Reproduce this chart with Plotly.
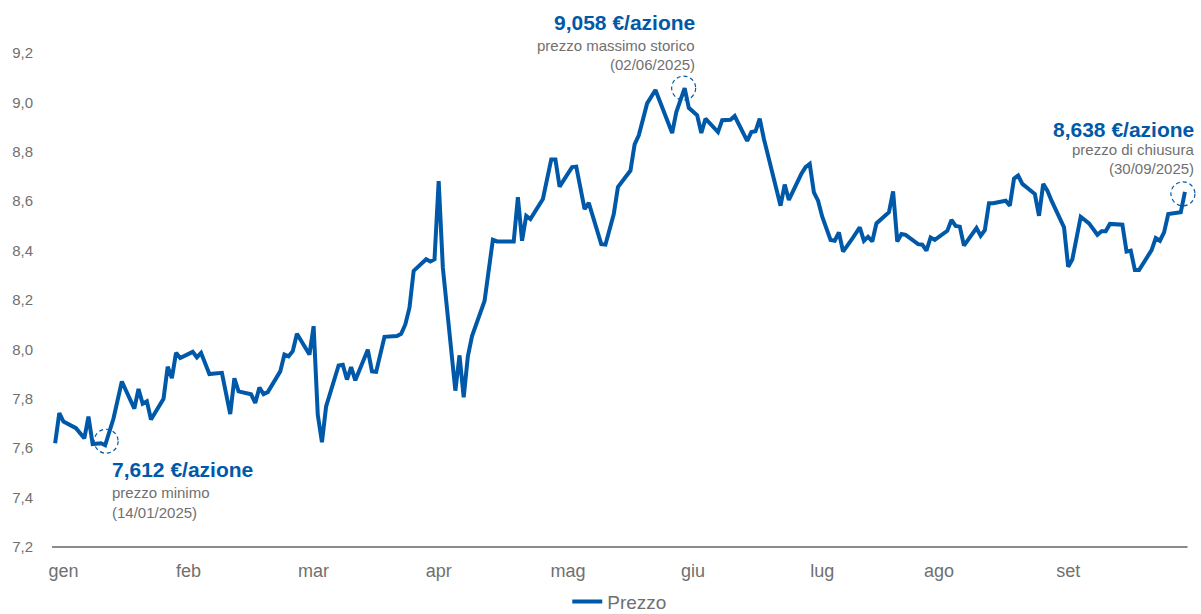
import plotly.graph_objects as go

# ---- data ----
dates = [
    "2025-01-02", "2025-01-03", "2025-01-04", "2025-01-07", "2025-01-09", "2025-01-10",
    "2025-01-11", "2025-01-13", "2025-01-14", "2025-01-16", "2025-01-18", "2025-01-21",
    "2025-01-22", "2025-01-23", "2025-01-24", "2025-01-25", "2025-01-28", "2025-01-29",
    "2025-01-30", "2025-01-31", "2025-02-01", "2025-02-04", "2025-02-05", "2025-02-06",
    "2025-02-08", "2025-02-11", "2025-02-13", "2025-02-14", "2025-02-15", "2025-02-18",
    "2025-02-19", "2025-02-20", "2025-02-21", "2025-02-22", "2025-02-25", "2025-02-26",
    "2025-02-27", "2025-02-28", "2025-03-01", "2025-03-04", "2025-03-05", "2025-03-06",
    "2025-03-07", "2025-03-08", "2025-03-11", "2025-03-12", "2025-03-13", "2025-03-14",
    "2025-03-15", "2025-03-18", "2025-03-19", "2025-03-20", "2025-03-22", "2025-03-25",
    "2025-03-26", "2025-03-27", "2025-03-28", "2025-03-29", "2025-04-01", "2025-04-02",
    "2025-04-03", "2025-04-04", "2025-04-05", "2025-04-08", "2025-04-09", "2025-04-10",
    "2025-04-11", "2025-04-12", "2025-04-15", "2025-04-17", "2025-04-18", "2025-04-22",
    "2025-04-23", "2025-04-24", "2025-04-25", "2025-04-26", "2025-04-29", "2025-04-30",
    "2025-05-01", "2025-05-02", "2025-05-03", "2025-05-06", "2025-05-07", "2025-05-09",
    "2025-05-10", "2025-05-13", "2025-05-14", "2025-05-16", "2025-05-17", "2025-05-20",
    "2025-05-21", "2025-05-22", "2025-05-24", "2025-05-26", "2025-05-28", "2025-05-30",
    "2025-05-31", "2025-06-02", "2025-06-03", "2025-06-05", "2025-06-06", "2025-06-07",
    "2025-06-10", "2025-06-11", "2025-06-13", "2025-06-14", "2025-06-17", "2025-06-18",
    "2025-06-19", "2025-06-20", "2025-06-21", "2025-06-25", "2025-06-26", "2025-06-27",
    "2025-06-30", "2025-07-01", "2025-07-02", "2025-07-03", "2025-07-04", "2025-07-05",
    "2025-07-07", "2025-07-08", "2025-07-09", "2025-07-10", "2025-07-12", "2025-07-14",
    "2025-07-15", "2025-07-16", "2025-07-17", "2025-07-18", "2025-07-21", "2025-07-22",
    "2025-07-23", "2025-07-24", "2025-07-25", "2025-07-28", "2025-07-29", "2025-07-30",
    "2025-07-31", "2025-08-01", "2025-08-04", "2025-08-05", "2025-08-06", "2025-08-07",
    "2025-08-08", "2025-08-11", "2025-08-12", "2025-08-13", "2025-08-14", "2025-08-15",
    "2025-08-18", "2025-08-19", "2025-08-20", "2025-08-21", "2025-08-22", "2025-08-25",
    "2025-08-26", "2025-08-27", "2025-08-28", "2025-08-29", "2025-09-01", "2025-09-02",
    "2025-09-03", "2025-09-05", "2025-09-07", "2025-09-09", "2025-09-10", "2025-09-11",
    "2025-09-12", "2025-09-15", "2025-09-16", "2025-09-17", "2025-09-18", "2025-09-19",
    "2025-09-22", "2025-09-23", "2025-09-24", "2025-09-25", "2025-09-26", "2025-09-29",
    "2025-09-30",
]
prices = [
    7.620, 7.742, 7.708, 7.681, 7.640, 7.728,
    7.617, 7.620, 7.612, 7.720, 7.870, 7.760,
    7.840, 7.780, 7.790, 7.716, 7.800, 7.930,
    7.884, 7.986, 7.965, 7.990, 7.968, 7.986,
    7.900, 7.905, 7.738, 7.883, 7.830, 7.818,
    7.783, 7.846, 7.819, 7.827, 7.911, 7.979,
    7.972, 7.993, 8.063, 7.979, 8.094, 7.735,
    7.624, 7.769, 7.935, 7.938, 7.878, 7.928,
    7.875, 7.999, 7.911, 7.909, 8.051, 8.054,
    8.063, 8.101, 8.169, 8.318, 8.365, 8.356,
    8.365, 8.681, 8.331, 7.833, 7.976, 7.806,
    7.972, 8.054, 8.196, 8.444, 8.437, 8.437,
    8.616, 8.440, 8.541, 8.528, 8.609, 8.684,
    8.769, 8.769, 8.659, 8.738, 8.740, 8.568,
    8.593, 8.426, 8.424, 8.548, 8.657, 8.724,
    8.830, 8.867, 8.996, 9.050, 8.964, 8.876,
    8.961, 9.058, 8.978, 8.948, 8.876, 8.934,
    8.880, 8.928, 8.930, 8.945, 8.844, 8.880,
    8.883, 8.934, 8.853, 8.582, 8.667, 8.605,
    8.711, 8.738, 8.751, 8.636, 8.602, 8.537,
    8.443, 8.440, 8.474, 8.396, 8.443, 8.494,
    8.440, 8.456, 8.437, 8.510, 8.555, 8.640,
    8.437, 8.467, 8.464, 8.426, 8.424, 8.400,
    8.453, 8.443, 8.480, 8.524, 8.500, 8.497,
    8.420, 8.491, 8.460, 8.483, 8.592, 8.592,
    8.602, 8.582, 8.691, 8.704, 8.670, 8.629,
    8.541, 8.670, 8.643, 8.602, 8.494, 8.334,
    8.365, 8.537, 8.510, 8.464, 8.478, 8.478,
    8.508, 8.505, 8.396, 8.400, 8.321, 8.321,
    8.402, 8.451, 8.440, 8.474, 8.548, 8.555,
    8.638,
]
series_name = "Prezzo"

month_tick_dates = ["2025-01-04", "2025-02-03", "2025-03-05", "2025-04-04", "2025-05-05",
                    "2025-06-04", "2025-07-05", "2025-08-02", "2025-09-02"]
month_labels = ["gen", "feb", "mar", "apr", "mag", "giu", "lug", "ago", "set"]
y_ticks = [7.2, 7.4, 7.6, 7.8, 8.0, 8.2, 8.4, 8.6, 8.8, 9.0, 9.2]

# key points: (date, value, title, subtitle, date label)
key_min = ("2025-01-14", 7.612, "7,612 €/azione", "prezzo minimo", "(14/01/2025)")
key_max = ("2025-06-02", 9.058, "9,058 €/azione", "prezzo massimo storico", "(02/06/2025)")
key_close = ("2025-09-30", 8.638, "8,638 €/azione", "prezzo di chiusura", "(30/09/2025)")

BLUE = "#0059A8"
GRAY = "#707070"
FONT = "Liberation Sans, Arial, sans-serif"

fig = go.Figure()
fig.add_trace(go.Scatter(
    x=dates, y=prices, mode="lines", name=series_name,
    line=dict(color=BLUE, width=4),
))

annotations = []
shapes = []


def add_key(pt, align, xshift, ys, cshift):
    d, v, title, sub, dl = pt
    xa = "left" if align == "left" else "right"
    annotations.append(dict(x=d, y=v, xref="x", yref="y", text="<b>%s</b>" % title,
                            showarrow=False, xanchor=xa, yanchor="middle",
                            xshift=xshift, yshift=ys[0], align=align,
                            font=dict(family=FONT, size=21, color=BLUE)))
    annotations.append(dict(x=d, y=v, xref="x", yref="y", text=sub,
                            showarrow=False, xanchor=xa, yanchor="middle",
                            xshift=xshift, yshift=ys[1], align=align,
                            font=dict(family=FONT, size=15, color=GRAY)))
    annotations.append(dict(x=d, y=v, xref="x", yref="y", text=dl,
                            showarrow=False, xanchor=xa, yanchor="middle",
                            xshift=xshift, yshift=ys[2], align=align,
                            font=dict(family=FONT, size=15, color=GRAY)))
    cx, cy = cshift
    shapes.append(dict(type="circle", xref="x", yref="y", xsizemode="pixel", ysizemode="pixel",
                       xanchor=d, yanchor=v, x0=cx - 12, x1=cx + 12, y0=cy - 12, y1=cy + 12,
                       line=dict(color=BLUE, width=1.2, dash="4px,3px")))


add_key(key_min, "left", 5, (-24, -47, -67), (1, 4))
add_key(key_max, "right", 12, (66, 43, 24), (-1, 0))
add_key(key_close, "right", 11, (62, 42, 23), (-2, -2))

# bottom baseline (axis line), drawn in paper coordinates
shapes.append(dict(type="line", xref="paper", yref="paper", x0=0, x1=0.99, y0=0, y1=0,
                   line=dict(color="#8a8a8a", width=2), layer="below"))

fig.update_layout(
    width=1201, height=614,
    margin=dict(l=52, r=2, t=53, b=67, autoexpand=False),
    paper_bgcolor="white", plot_bgcolor="white",
    separators=",.",
    font=dict(family=FONT, color=GRAY),
    showlegend=True,
    legend=dict(orientation="h", x=0.495, xanchor="center", xref="paper",
                y=0.02, yanchor="middle", yref="container",
                font=dict(family=FONT, size=19, color=GRAY), itemwidth=30),
    annotations=annotations,
    shapes=shapes,
    xaxis=dict(
        type="date",
        range=["2025-01-01 06:00", "2025-10-03 09:00"],
        tickmode="array", tickvals=month_tick_dates, ticktext=month_labels,
        showgrid=False, zeroline=False, showline=False,
        ticks="", ticklabelstandoff=11,
        tickfont=dict(family=FONT, size=18, color=GRAY),
    ),
    yaxis=dict(
        range=[7.2, 9.2],
        tickmode="array", tickvals=y_ticks, tickformat=".1f",
        showgrid=False, zeroline=False, showline=False,
        ticks="", ticklabelstandoff=18,
        tickfont=dict(family=FONT, size=15, color=GRAY),
    ),
)

fig.write_html("out.html")
